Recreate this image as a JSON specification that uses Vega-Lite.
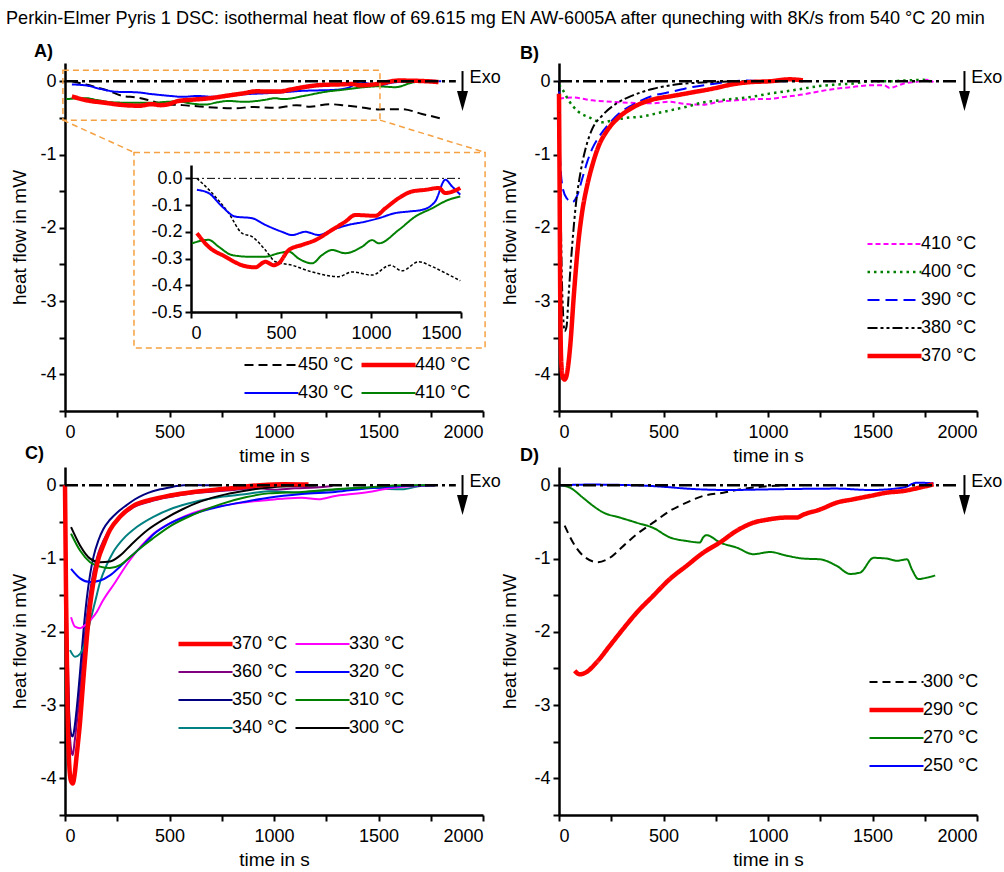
{
  "$schema": "https://vega.github.io/schema/vega-lite/v6.json",
  "padding": {"left": 5, "top": 9, "right": 0, "bottom": 0},
  "title": {"text": "Perkin-Elmer Pyris 1 DSC: isothermal heat flow of 69.615 mg EN AW-6005A after quneching with 8K/s from 540 °C 20 min", "anchor": "start", "dx": -5, "offset": 15, "fontSize": 18.1, "fontWeight": "normal", "font": "Liberation Sans", "color": "black"},
  "columns": 2,
  "spacing": {"row": 56, "column": 76},
  "bounds": "flush",
  "resolve": {"scale": {"color": "independent", "strokeDash": "independent", "strokeWidth": "independent"}, "legend": {"color": "independent", "strokeDash": "independent", "strokeWidth": "independent"}},
  "config": {
    "font": "Liberation Sans",
    "view": {"stroke": null},
    "axis": {"grid": false, "domainColor": "black", "domainWidth": 2.5, "tickColor": "black", "tickWidth": 2, "tickSize": 6, "labelFontSize": 18, "labelColor": "black", "labelFont": "Liberation Sans", "labelPadding": 6, "labelOverlap": false, "titleFontSize": 19, "titleFontWeight": "normal", "titleColor": "black", "titleFont": "Liberation Sans"},
    "axisX": {"titlePadding": 5},
    "axisY": {"titlePadding": 10, "labelPadding": 3},
    "legend": {"labelFontSize": 18, "labelColor": "black", "labelFont": "Liberation Sans", "symbolType": "stroke", "symbolSize": 2916, "clipHeight": 22, "rowPadding": 6, "columnPadding": 5, "labelOffset": -3, "padding": 0},
    "line": {"strokeJoin": "round", "strokeCap": "butt", "interpolate": "monotone"}
  },
  "datasets": {
    "A": [
      {"s":"450 °C","t":33,"v":0},{"s":"450 °C","t":117,"v":-0.055},{"s":"450 °C","t":209,"v":-0.13},{"s":"450 °C","t":283,"v":-0.205},{"s":"450 °C","t":339,"v":-0.218},{"s":"450 °C","t":413,"v":-0.268},{"s":"450 °C","t":469,"v":-0.312},{"s":"450 °C","t":561,"v":-0.325},{"s":"450 °C","t":672,"v":-0.35},{"s":"450 °C","t":820,"v":-0.368},{"s":"450 °C","t":894,"v":-0.35},{"s":"450 °C","t":1006,"v":-0.362},{"s":"450 °C","t":1107,"v":-0.325},{"s":"450 °C","t":1172,"v":-0.346},{"s":"450 °C","t":1265,"v":-0.312},{"s":"450 °C","t":1339,"v":-0.33},{"s":"450 °C","t":1430,"v":-0.36},{"s":"450 °C","t":1496,"v":-0.383},{"s":"450 °C","t":1612,"v":-0.38},{"s":"450 °C","t":1708,"v":-0.445},{"s":"450 °C","t":1796,"v":-0.505},
      {"s":"430 °C","t":33,"v":-0.043},{"s":"430 °C","t":98,"v":-0.055},{"s":"430 °C","t":172,"v":-0.105},{"s":"430 °C","t":246,"v":-0.143},{"s":"430 °C","t":339,"v":-0.149},{"s":"430 °C","t":413,"v":-0.174},{"s":"430 °C","t":506,"v":-0.2},{"s":"430 °C","t":561,"v":-0.212},{"s":"430 °C","t":635,"v":-0.2},{"s":"430 °C","t":709,"v":-0.212},{"s":"430 °C","t":783,"v":-0.193},{"s":"430 °C","t":876,"v":-0.174},{"s":"430 °C","t":968,"v":-0.162},{"s":"430 °C","t":1043,"v":-0.149},{"s":"430 °C","t":1135,"v":-0.13},{"s":"430 °C","t":1209,"v":-0.124},{"s":"430 °C","t":1283,"v":-0.118},{"s":"430 °C","t":1357,"v":-0.086},{"s":"430 °C","t":1413,"v":-0.005},{"s":"430 °C","t":1450,"v":-0.03},{"s":"430 °C","t":1496,"v":-0.061},{"s":"430 °C","t":1560,"v":-0.02},{"s":"430 °C","t":1650,"v":0},{"s":"430 °C","t":1720,"v":0.01},{"s":"430 °C","t":1800,"v":0},
      {"s":"410 °C","t":6,"v":-0.243},{"s":"410 °C","t":98,"v":-0.23},{"s":"410 °C","t":154,"v":-0.256},{"s":"410 °C","t":228,"v":-0.287},{"s":"410 °C","t":320,"v":-0.293},{"s":"410 °C","t":413,"v":-0.293},{"s":"410 °C","t":487,"v":-0.28},{"s":"410 °C","t":543,"v":-0.274},{"s":"410 °C","t":598,"v":-0.3},{"s":"410 °C","t":672,"v":-0.318},{"s":"410 °C","t":728,"v":-0.287},{"s":"410 °C","t":783,"v":-0.268},{"s":"410 °C","t":857,"v":-0.28},{"s":"410 °C","t":950,"v":-0.256},{"s":"410 °C","t":1006,"v":-0.231},{"s":"410 °C","t":1043,"v":-0.243},{"s":"410 °C","t":1154,"v":-0.193},{"s":"410 °C","t":1246,"v":-0.143},{"s":"410 °C","t":1339,"v":-0.112},{"s":"410 °C","t":1431,"v":-0.08},{"s":"410 °C","t":1496,"v":-0.068},{"s":"410 °C","t":1580,"v":-0.08},{"s":"410 °C","t":1676,"v":-0.01},{"s":"410 °C","t":1787,"v":0},
      {"s":"440 °C","t":33,"v":-0.205},{"s":"440 °C","t":98,"v":-0.256},{"s":"440 °C","t":191,"v":-0.293},{"s":"440 °C","t":283,"v":-0.325},{"s":"440 °C","t":357,"v":-0.333},{"s":"440 °C","t":413,"v":-0.312},{"s":"440 °C","t":459,"v":-0.325},{"s":"440 °C","t":487,"v":-0.318},{"s":"440 °C","t":543,"v":-0.268},{"s":"440 °C","t":617,"v":-0.249},{"s":"440 °C","t":691,"v":-0.231},{"s":"440 °C","t":783,"v":-0.193},{"s":"440 °C","t":857,"v":-0.162},{"s":"440 °C","t":913,"v":-0.137},{"s":"440 °C","t":1024,"v":-0.14},{"s":"440 °C","t":1080,"v":-0.112},{"s":"440 °C","t":1154,"v":-0.074},{"s":"440 °C","t":1228,"v":-0.049},{"s":"440 °C","t":1302,"v":-0.043},{"s":"440 °C","t":1376,"v":-0.036},{"s":"440 °C","t":1413,"v":-0.055},{"s":"440 °C","t":1496,"v":-0.036},{"s":"440 °C","t":1596,"v":0.01},{"s":"440 °C","t":1700,"v":0.005},{"s":"440 °C","t":1787,"v":-0.01}
    ],
    "B": [
      {"s":"410 °C","t":0,"v":-0.24},{"s":"410 °C","t":63,"v":-0.22},{"s":"410 °C","t":159,"v":-0.26},{"s":"410 °C","t":287,"v":-0.285},{"s":"410 °C","t":447,"v":-0.3},{"s":"410 °C","t":526,"v":-0.28},{"s":"410 °C","t":608,"v":-0.31},{"s":"410 °C","t":686,"v":-0.32},{"s":"410 °C","t":766,"v":-0.28},{"s":"410 °C","t":846,"v":-0.26},{"s":"410 °C","t":926,"v":-0.245},{"s":"410 °C","t":1006,"v":-0.24},{"s":"410 °C","t":1087,"v":-0.21},{"s":"410 °C","t":1167,"v":-0.18},{"s":"410 °C","t":1247,"v":-0.136},{"s":"410 °C","t":1327,"v":-0.1},{"s":"410 °C","t":1407,"v":-0.077},{"s":"410 °C","t":1487,"v":-0.055},{"s":"410 °C","t":1555,"v":-0.055},{"s":"410 °C","t":1583,"v":-0.09},{"s":"410 °C","t":1647,"v":-0.032},{"s":"410 °C","t":1728,"v":0},{"s":"410 °C","t":1760,"v":0.02},{"s":"410 °C","t":1792,"v":-0.01},
      {"s":"400 °C","t":0,"v":-0.05},{"s":"400 °C","t":14,"v":-0.1},{"s":"400 °C","t":46,"v":-0.26},{"s":"400 °C","t":95,"v":-0.42},{"s":"400 °C","t":143,"v":-0.49},{"s":"400 °C","t":207,"v":-0.56},{"s":"400 °C","t":255,"v":-0.535},{"s":"400 °C","t":319,"v":-0.5},{"s":"400 °C","t":399,"v":-0.48},{"s":"400 °C","t":479,"v":-0.43},{"s":"400 °C","t":559,"v":-0.38},{"s":"400 °C","t":620,"v":-0.34},{"s":"400 °C","t":686,"v":-0.29},{"s":"400 °C","t":766,"v":-0.26},{"s":"400 °C","t":846,"v":-0.236},{"s":"400 °C","t":926,"v":-0.21},{"s":"400 °C","t":1006,"v":-0.168},{"s":"400 °C","t":1087,"v":-0.136},{"s":"400 °C","t":1167,"v":-0.1},{"s":"400 °C","t":1247,"v":-0.064},{"s":"400 °C","t":1327,"v":-0.045},{"s":"400 °C","t":1407,"v":-0.03},{"s":"400 °C","t":1487,"v":0},{"s":"400 °C","t":1567,"v":0},{"s":"400 °C","t":1647,"v":0.01},{"s":"400 °C","t":1743,"v":0.02},{"s":"400 °C","t":1776,"v":0},
      {"s":"390 °C","t":0,"v":0},{"s":"390 °C","t":6,"v":-1.1},{"s":"390 °C","t":18,"v":-1.46},{"s":"390 °C","t":38,"v":-1.6},{"s":"390 °C","t":63,"v":-1.65},{"s":"390 °C","t":87,"v":-1.56},{"s":"390 °C","t":111,"v":-1.33},{"s":"390 °C","t":135,"v":-1.1},{"s":"390 °C","t":159,"v":-0.92},{"s":"390 °C","t":191,"v":-0.76},{"s":"390 °C","t":239,"v":-0.58},{"s":"390 °C","t":287,"v":-0.44},{"s":"390 °C","t":367,"v":-0.3},{"s":"390 °C","t":447,"v":-0.2},{"s":"390 °C","t":543,"v":-0.14},{"s":"390 °C","t":640,"v":-0.077},{"s":"390 °C","t":736,"v":-0.036},{"s":"390 °C","t":832,"v":0},{"s":"390 °C","t":900,"v":0.01},{"s":"390 °C","t":1000,"v":0},{"s":"390 °C","t":1087,"v":0},
      {"s":"380 °C","t":0,"v":0},{"s":"380 °C","t":6,"v":-1.3},{"s":"380 °C","t":13,"v":-2.6},{"s":"380 °C","t":20,"v":-3.2},{"s":"380 °C","t":27,"v":-3.41},{"s":"380 °C","t":36,"v":-3.35},{"s":"380 °C","t":46,"v":-2.92},{"s":"380 °C","t":63,"v":-2.24},{"s":"380 °C","t":82,"v":-1.65},{"s":"380 °C","t":103,"v":-1.24},{"s":"380 °C","t":127,"v":-0.92},{"s":"380 °C","t":159,"v":-0.65},{"s":"380 °C","t":207,"v":-0.467},{"s":"380 °C","t":271,"v":-0.31},{"s":"380 °C","t":351,"v":-0.195},{"s":"380 °C","t":447,"v":-0.104},{"s":"380 °C","t":543,"v":-0.05},{"s":"380 °C","t":640,"v":-0.023},{"s":"380 °C","t":736,"v":-0.01},{"s":"380 °C","t":850,"v":0},{"s":"380 °C","t":1000,"v":0},
      {"s":"370 °C","t":0,"v":-0.17},{"s":"370 °C","t":3,"v":-1.5},{"s":"370 °C","t":6,"v":-3.0},{"s":"370 °C","t":11,"v":-3.85},{"s":"370 °C","t":19,"v":-4.05},{"s":"370 °C","t":27,"v":-4.07},{"s":"370 °C","t":36,"v":-4.02},{"s":"370 °C","t":43,"v":-3.9},{"s":"370 °C","t":54,"v":-3.6},{"s":"370 °C","t":71,"v":-2.92},{"s":"370 °C","t":91,"v":-2.24},{"s":"370 °C","t":111,"v":-1.78},{"s":"370 °C","t":135,"v":-1.42},{"s":"370 °C","t":159,"v":-1.15},{"s":"370 °C","t":191,"v":-0.875},{"s":"370 °C","t":231,"v":-0.67},{"s":"370 °C","t":287,"v":-0.49},{"s":"370 °C","t":351,"v":-0.36},{"s":"370 °C","t":447,"v":-0.25},{"s":"370 °C","t":543,"v":-0.2},{"s":"370 °C","t":640,"v":-0.15},{"s":"370 °C","t":736,"v":-0.1},{"s":"370 °C","t":832,"v":-0.04},{"s":"370 °C","t":920,"v":-0.01},{"s":"370 °C","t":1006,"v":0},{"s":"370 °C","t":1103,"v":0.027},{"s":"370 °C","t":1167,"v":0.014}
    ],
    "C": [
      {"s":"360 °C","t":0,"v":0},{"s":"360 °C","t":8,"v":-1.6},{"s":"360 °C","t":20,"v":-3.2},{"s":"360 °C","t":30,"v":-3.62},{"s":"360 °C","t":37,"v":-3.68},{"s":"360 °C","t":46,"v":-3.5},{"s":"360 °C","t":56,"v":-3.25},{"s":"360 °C","t":72,"v":-2.8},{"s":"360 °C","t":88,"v":-2.25},{"s":"360 °C","t":104,"v":-1.8},{"s":"360 °C","t":120,"v":-1.45},{"s":"360 °C","t":136,"v":-1.18},{"s":"360 °C","t":160,"v":-0.92},{"s":"360 °C","t":183,"v":-0.76},{"s":"360 °C","t":215,"v":-0.6},{"s":"360 °C","t":263,"v":-0.44},{"s":"360 °C","t":327,"v":-0.3},{"s":"360 °C","t":407,"v":-0.22},{"s":"360 °C","t":502,"v":-0.16},{"s":"360 °C","t":614,"v":-0.11},{"s":"360 °C","t":774,"v":-0.07},{"s":"360 °C","t":933,"v":-0.04},{"s":"360 °C","t":1000,"v":-0.06},{"s":"360 °C","t":1100,"v":-0.04},{"s":"360 °C","t":1200,"v":-0.03},{"s":"360 °C","t":1280,"v":-0.01},
      {"s":"350 °C","t":0,"v":0},{"s":"350 °C","t":8,"v":-1.8},{"s":"350 °C","t":20,"v":-3.1},{"s":"350 °C","t":30,"v":-3.4},{"s":"350 °C","t":37,"v":-3.43},{"s":"350 °C","t":46,"v":-3.3},{"s":"350 °C","t":56,"v":-3.05},{"s":"350 °C","t":72,"v":-2.55},{"s":"350 °C","t":88,"v":-2.0},{"s":"350 °C","t":104,"v":-1.55},{"s":"350 °C","t":120,"v":-1.22},{"s":"350 °C","t":136,"v":-0.98},{"s":"350 °C","t":160,"v":-0.75},{"s":"350 °C","t":183,"v":-0.6},{"s":"350 °C","t":215,"v":-0.47},{"s":"350 °C","t":250,"v":-0.37},{"s":"350 °C","t":295,"v":-0.27},{"s":"350 °C","t":335,"v":-0.19},{"s":"350 °C","t":375,"v":-0.13},{"s":"350 °C","t":420,"v":-0.08},{"s":"350 °C","t":455,"v":-0.055},{"s":"350 °C","t":500,"v":-0.03},{"s":"350 °C","t":534,"v":-0.01},{"s":"350 °C","t":600,"v":0.005},{"s":"350 °C","t":700,"v":0},
      {"s":"340 °C","t":24,"v":-2.25},{"s":"340 °C","t":48,"v":-2.34},{"s":"340 °C","t":72,"v":-2.3},{"s":"340 °C","t":96,"v":-2.14},{"s":"340 °C","t":120,"v":-1.86},{"s":"340 °C","t":144,"v":-1.59},{"s":"340 °C","t":168,"v":-1.32},{"s":"340 °C","t":199,"v":-1.09},{"s":"340 °C","t":231,"v":-0.91},{"s":"340 °C","t":279,"v":-0.73},{"s":"340 °C","t":343,"v":-0.57},{"s":"340 °C","t":423,"v":-0.43},{"s":"340 °C","t":518,"v":-0.31},{"s":"340 °C","t":614,"v":-0.23},{"s":"340 °C","t":742,"v":-0.16},{"s":"340 °C","t":869,"v":-0.12},{"s":"340 °C","t":974,"v":-0.08},{"s":"340 °C","t":1133,"v":-0.1},{"s":"340 °C","t":1293,"v":-0.06},{"s":"340 °C","t":1453,"v":-0.03},{"s":"340 °C","t":1550,"v":-0.05},{"s":"340 °C","t":1612,"v":-0.055},{"s":"340 °C","t":1700,"v":-0.01},{"s":"340 °C","t":1772,"v":0},
      {"s":"330 °C","t":29,"v":-1.8},{"s":"330 °C","t":48,"v":-1.93},{"s":"330 °C","t":72,"v":-1.95},{"s":"330 °C","t":104,"v":-1.89},{"s":"330 °C","t":128,"v":-1.82},{"s":"330 °C","t":152,"v":-1.73},{"s":"330 °C","t":176,"v":-1.6},{"s":"330 °C","t":239,"v":-1.33},{"s":"330 °C","t":303,"v":-1.05},{"s":"330 °C","t":367,"v":-0.82},{"s":"330 °C","t":415,"v":-0.68},{"s":"330 °C","t":495,"v":-0.53},{"s":"330 °C","t":574,"v":-0.42},{"s":"330 °C","t":654,"v":-0.34},{"s":"330 °C","t":734,"v":-0.29},{"s":"330 °C","t":814,"v":-0.25},{"s":"330 °C","t":894,"v":-0.22},{"s":"330 °C","t":974,"v":-0.2},{"s":"330 °C","t":1053,"v":-0.18},{"s":"330 °C","t":1133,"v":-0.17},{"s":"330 °C","t":1213,"v":-0.19},{"s":"330 °C","t":1293,"v":-0.145},{"s":"330 °C","t":1373,"v":-0.12},{"s":"330 °C","t":1453,"v":-0.09},{"s":"330 °C","t":1533,"v":-0.05},{"s":"330 °C","t":1612,"v":-0.02},{"s":"330 °C","t":1692,"v":-0.01},{"s":"330 °C","t":1772,"v":0},
      {"s":"320 °C","t":29,"v":-1.14},{"s":"320 °C","t":72,"v":-1.27},{"s":"320 °C","t":120,"v":-1.32},{"s":"320 °C","t":168,"v":-1.3},{"s":"320 °C","t":215,"v":-1.23},{"s":"320 °C","t":263,"v":-1.11},{"s":"320 °C","t":311,"v":-0.98},{"s":"320 °C","t":359,"v":-0.86},{"s":"320 °C","t":423,"v":-0.67},{"s":"320 °C","t":502,"v":-0.52},{"s":"320 °C","t":614,"v":-0.39},{"s":"320 °C","t":742,"v":-0.29},{"s":"320 °C","t":869,"v":-0.22},{"s":"320 °C","t":974,"v":-0.17},{"s":"320 °C","t":1133,"v":-0.12},{"s":"320 °C","t":1293,"v":-0.09},{"s":"320 °C","t":1453,"v":-0.04},{"s":"320 °C","t":1612,"v":-0.01},{"s":"320 °C","t":1772,"v":0},
      {"s":"310 °C","t":29,"v":-0.66},{"s":"310 °C","t":72,"v":-0.89},{"s":"310 °C","t":120,"v":-1.05},{"s":"310 °C","t":168,"v":-1.11},{"s":"310 °C","t":215,"v":-1.13},{"s":"310 °C","t":263,"v":-1.09},{"s":"310 °C","t":311,"v":-0.98},{"s":"310 °C","t":359,"v":-0.86},{"s":"310 °C","t":423,"v":-0.72},{"s":"310 °C","t":502,"v":-0.56},{"s":"310 °C","t":614,"v":-0.4},{"s":"310 °C","t":742,"v":-0.26},{"s":"310 °C","t":869,"v":-0.16},{"s":"310 °C","t":974,"v":-0.11},{"s":"310 °C","t":1133,"v":-0.09},{"s":"310 °C","t":1293,"v":-0.055},{"s":"310 °C","t":1453,"v":-0.03},{"s":"310 °C","t":1612,"v":0},{"s":"310 °C","t":1772,"v":0},
      {"s":"300 °C","t":29,"v":-0.57},{"s":"300 °C","t":72,"v":-0.82},{"s":"300 °C","t":120,"v":-1.0},{"s":"300 °C","t":168,"v":-1.05},{"s":"300 °C","t":215,"v":-1.04},{"s":"300 °C","t":263,"v":-0.96},{"s":"300 °C","t":320,"v":-0.8},{"s":"300 °C","t":395,"v":-0.61},{"s":"300 °C","t":475,"v":-0.46},{"s":"300 °C","t":560,"v":-0.33},{"s":"300 °C","t":650,"v":-0.22},{"s":"300 °C","t":774,"v":-0.12},{"s":"300 °C","t":869,"v":-0.07},{"s":"300 °C","t":974,"v":-0.03},{"s":"300 °C","t":1100,"v":-0.01},{"s":"300 °C","t":1200,"v":0},
      {"s":"370 °C","t":0,"v":0},{"s":"370 °C","t":5,"v":-1.5},{"s":"370 °C","t":12,"v":-3.0},{"s":"370 °C","t":20,"v":-3.8},{"s":"370 °C","t":28,"v":-4.03},{"s":"370 °C","t":37,"v":-4.07},{"s":"370 °C","t":46,"v":-3.95},{"s":"370 °C","t":56,"v":-3.68},{"s":"370 °C","t":72,"v":-3.23},{"s":"370 °C","t":88,"v":-2.64},{"s":"370 °C","t":104,"v":-2.09},{"s":"370 °C","t":120,"v":-1.64},{"s":"370 °C","t":136,"v":-1.32},{"s":"370 °C","t":160,"v":-1.0},{"s":"370 °C","t":183,"v":-0.82},{"s":"370 °C","t":215,"v":-0.61},{"s":"370 °C","t":263,"v":-0.43},{"s":"370 °C","t":327,"v":-0.28},{"s":"370 °C","t":407,"v":-0.2},{"s":"370 °C","t":502,"v":-0.14},{"s":"370 °C","t":614,"v":-0.09},{"s":"370 °C","t":774,"v":-0.045},{"s":"370 °C","t":933,"v":0},{"s":"370 °C","t":1050,"v":0.015},{"s":"370 °C","t":1165,"v":0.01}
    ],
    "D": [
      {"s":"300 °C","t":27,"v":-0.55},{"s":"300 °C","t":67,"v":-0.78},{"s":"300 °C","t":115,"v":-0.96},{"s":"300 °C","t":187,"v":-1.05},{"s":"300 °C","t":243,"v":-0.99},{"s":"300 °C","t":307,"v":-0.83},{"s":"300 °C","t":371,"v":-0.67},{"s":"300 °C","t":450,"v":-0.51},{"s":"300 °C","t":530,"v":-0.35},{"s":"300 °C","t":610,"v":-0.236},{"s":"300 °C","t":690,"v":-0.145},{"s":"300 °C","t":786,"v":-0.1},{"s":"300 °C","t":850,"v":-0.064},{"s":"300 °C","t":930,"v":-0.03},{"s":"300 °C","t":1010,"v":-0.01},{"s":"300 °C","t":1089,"v":0},
      {"s":"270 °C","t":6,"v":0},{"s":"270 °C","t":51,"v":-0.03},{"s":"270 °C","t":115,"v":-0.17},{"s":"270 °C","t":163,"v":-0.28},{"s":"270 °C","t":211,"v":-0.37},{"s":"270 °C","t":291,"v":-0.44},{"s":"270 °C","t":371,"v":-0.51},{"s":"270 °C","t":450,"v":-0.58},{"s":"270 °C","t":530,"v":-0.71},{"s":"270 °C","t":610,"v":-0.76},{"s":"270 °C","t":674,"v":-0.78},{"s":"270 °C","t":690,"v":-0.71},{"s":"270 °C","t":706,"v":-0.68},{"s":"270 °C","t":770,"v":-0.78},{"s":"270 °C","t":850,"v":-0.85},{"s":"270 °C","t":930,"v":-0.94},{"s":"270 °C","t":1010,"v":-0.91},{"s":"270 °C","t":1089,"v":-0.96},{"s":"270 °C","t":1169,"v":-1.0},{"s":"270 °C","t":1249,"v":-1.01},{"s":"270 °C","t":1329,"v":-1.1},{"s":"270 °C","t":1393,"v":-1.21},{"s":"270 °C","t":1441,"v":-1.19},{"s":"270 °C","t":1505,"v":-0.99},{"s":"270 °C","t":1569,"v":-1.0},{"s":"270 °C","t":1617,"v":-1.03},{"s":"270 °C","t":1665,"v":-1.01},{"s":"270 °C","t":1689,"v":-1.15},{"s":"270 °C","t":1720,"v":-1.28},{"s":"270 °C","t":1760,"v":-1.26},{"s":"270 °C","t":1800,"v":-1.23},
      {"s":"250 °C","t":0,"v":0},{"s":"250 °C","t":147,"v":0.01},{"s":"250 °C","t":371,"v":0},{"s":"250 °C","t":500,"v":-0.02},{"s":"250 °C","t":610,"v":-0.045},{"s":"250 °C","t":818,"v":-0.064},{"s":"250 °C","t":1010,"v":-0.055},{"s":"250 °C","t":1329,"v":-0.045},{"s":"250 °C","t":1489,"v":-0.064},{"s":"250 °C","t":1649,"v":-0.03},{"s":"250 °C","t":1712,"v":0.036},{"s":"250 °C","t":1792,"v":0.027},
      {"s":"290 °C","t":75,"v":-2.53},{"s":"290 °C","t":99,"v":-2.58},{"s":"290 °C","t":131,"v":-2.55},{"s":"290 °C","t":179,"v":-2.42},{"s":"290 °C","t":243,"v":-2.19},{"s":"290 °C","t":307,"v":-1.96},{"s":"290 °C","t":371,"v":-1.74},{"s":"290 °C","t":450,"v":-1.51},{"s":"290 °C","t":530,"v":-1.28},{"s":"290 °C","t":610,"v":-1.1},{"s":"290 °C","t":690,"v":-0.92},{"s":"290 °C","t":770,"v":-0.78},{"s":"290 °C","t":850,"v":-0.62},{"s":"290 °C","t":930,"v":-0.51},{"s":"290 °C","t":994,"v":-0.47},{"s":"290 °C","t":1089,"v":-0.44},{"s":"290 °C","t":1137,"v":-0.44},{"s":"290 °C","t":1169,"v":-0.4},{"s":"290 °C","t":1249,"v":-0.33},{"s":"290 °C","t":1329,"v":-0.236},{"s":"290 °C","t":1409,"v":-0.19},{"s":"290 °C","t":1489,"v":-0.145},{"s":"290 °C","t":1569,"v":-0.1},{"s":"290 °C","t":1649,"v":-0.077},{"s":"290 °C","t":1728,"v":-0.03},{"s":"290 °C","t":1792,"v":0.014}
    ]
  },
  "concat": [
    {
      "width": 418, "height": 348,
      "title": {"text": "A)", "anchor": "start", "frame": "group", "dx": -31, "offset": 2, "fontSize": 18, "fontWeight": "bold", "color": "black"},
      "resolve": {"scale": {"x": "independent", "y": "independent", "color": "independent", "strokeDash": "independent", "strokeWidth": "independent"}, "axis": {"x": "independent", "y": "independent"}, "legend": {"color": "independent", "strokeDash": "independent", "strokeWidth": "independent"}},
      "layer": [
        {
          "layer": [
            {
              "data": {"name": "A"},
              "mark": {"type": "line"},
              "encoding": {
                "x": {"field": "t", "type": "quantitative", "title": "time in s", "scale": {"domain": [0, 2000]}, "axis": {"values": [0,250,500,750,1000,1250,1500,1750,2000], "labelExpr": "datum.value % 500 === 0 ? '' + datum.value : ''"}},
                "y": {"field": "v", "type": "quantitative", "title": "heat flow in mW", "scale": {"domain": [-4.5, 0.25]}, "axis": {"orient": "left", "values": [-4.5,-4,-3.5,-3,-2.5,-2,-1.5,-1,-0.5,0], "labelExpr": "abs(datum.value - round(datum.value)) < 0.001 ? replace(format(datum.value, 'd'), '\u2212', '-') : ''"}},
                "color": {"field": "s", "type": "nominal", "scale": {"domain": ["450 °C","430 °C","440 °C","410 °C"], "range": ["black","#0000ff","#ff0000","#008000"]}, "legend": {"orient": "none", "legendX": 177, "legendY": 291, "columns": 2, "title": null}},
                "strokeDash": {"field": "s", "type": "nominal", "scale": {"domain": ["450 °C","430 °C","440 °C","410 °C"], "range": [[9,5],[1,0],[1,0],[1,0]]}, "legend": {"orient": "none", "legendX": 177, "legendY": 291, "columns": 2, "title": null}},
                "strokeWidth": {"field": "s", "type": "nominal", "scale": {"type": "ordinal", "domain": ["450 °C","430 °C","440 °C","410 °C"], "range": [2, 2, 4.5, 2]}, "legend": {"orient": "none", "legendX": 177, "legendY": 291, "columns": 2, "title": null}}
              }
            },
            {"data": {"values": [{}]}, "mark": {"type": "rule", "color": "black", "strokeWidth": 2.5, "strokeDash": [13,4,3,4]}, "encoding": {"x": {"datum": 0, "scale": {"domain": [0, 2000]}, "axis": {"values": [0,250,500,750,1000,1250,1500,1750,2000], "labelExpr": "datum.value % 500 === 0 ? '' + datum.value : ''"}}, "x2": {"datum": 1870}, "y": {"datum": 0, "scale": {"domain": [-4.5, 0.25]}, "axis": {"orient": "left", "values": [-4.5,-4,-3.5,-3,-2.5,-2,-1.5,-1,-0.5,0], "labelExpr": "abs(datum.value - round(datum.value)) < 0.001 ? replace(format(datum.value, 'd'), '\u2212', '-') : ''"}}}},
            {"data": {"values": [{}]}, "mark": {"type": "text", "text": "Exo", "align": "left", "baseline": "middle", "fontSize": 18, "color": "black"}, "encoding": {"x": {"datum": 1936, "scale": {"domain": [0, 2000]}, "axis": {"values": [0,250,500,750,1000,1250,1500,1750,2000], "labelExpr": "datum.value % 500 === 0 ? '' + datum.value : ''"}}, "y": {"datum": 0.05, "scale": {"domain": [-4.5, 0.25]}, "axis": {"orient": "left", "values": [-4.5,-4,-3.5,-3,-2.5,-2,-1.5,-1,-0.5,0], "labelExpr": "abs(datum.value - round(datum.value)) < 0.001 ? replace(format(datum.value, 'd'), '\u2212', '-') : ''"}}}},
            {"data": {"values": [{}]}, "mark": {"type": "rule", "color": "black", "strokeWidth": 2}, "encoding": {"x": {"datum": 1902, "scale": {"domain": [0, 2000]}, "axis": {"values": [0,250,500,750,1000,1250,1500,1750,2000], "labelExpr": "datum.value % 500 === 0 ? '' + datum.value : ''"}}, "y": {"datum": 0.14, "scale": {"domain": [-4.5, 0.25]}, "axis": {"orient": "left", "values": [-4.5,-4,-3.5,-3,-2.5,-2,-1.5,-1,-0.5,0], "labelExpr": "abs(datum.value - round(datum.value)) < 0.001 ? replace(format(datum.value, 'd'), '\u2212', '-') : ''"}}, "y2": {"datum": -0.15}}},
            {"data": {"values": [{}]}, "mark": {"type": "point", "shape": "M-0.55,-1L0.55,-1L0,1Z", "filled": true, "color": "black", "size": 400, "opacity": 1}, "encoding": {"x": {"datum": 1902, "scale": {"domain": [0, 2000]}, "axis": {"values": [0,250,500,750,1000,1250,1500,1750,2000], "labelExpr": "datum.value % 500 === 0 ? '' + datum.value : ''"}}, "y": {"datum": -0.27, "scale": {"domain": [-4.5, 0.25]}, "axis": {"orient": "left", "values": [-4.5,-4,-3.5,-3,-2.5,-2,-1.5,-1,-0.5,0], "labelExpr": "abs(datum.value - round(datum.value)) < 0.001 ? replace(format(datum.value, 'd'), '\u2212', '-') : ''"}}}},
            {"data": {"values": [{}]}, "mark": {"type": "rect", "fillOpacity": 0, "stroke": "#f5a142", "strokeWidth": 1.5, "strokeDash": [6,4]}, "encoding": {"x": {"datum": -10, "scale": {"domain": [0, 2000]}, "axis": {"values": [0,250,500,750,1000,1250,1500,1750,2000], "labelExpr": "datum.value % 500 === 0 ? '' + datum.value : ''"}}, "x2": {"datum": 1507}, "y": {"datum": 0.15, "scale": {"domain": [-4.5, 0.25]}, "axis": {"orient": "left", "values": [-4.5,-4,-3.5,-3,-2.5,-2,-1.5,-1,-0.5,0], "labelExpr": "abs(datum.value - round(datum.value)) < 0.001 ? replace(format(datum.value, 'd'), '\u2212', '-') : ''"}}, "y2": {"datum": -0.53}}},
            {"data": {"values": [{}]}, "mark": {"type": "rect", "fillOpacity": 0, "stroke": "#f5a142", "strokeWidth": 1.5, "strokeDash": [6,4]}, "encoding": {"x": {"datum": 330, "scale": {"domain": [0, 2000]}, "axis": {"values": [0,250,500,750,1000,1250,1500,1750,2000], "labelExpr": "datum.value % 500 === 0 ? '' + datum.value : ''"}}, "x2": {"datum": 2010}, "y": {"datum": -0.97, "scale": {"domain": [-4.5, 0.25]}, "axis": {"orient": "left", "values": [-4.5,-4,-3.5,-3,-2.5,-2,-1.5,-1,-0.5,0], "labelExpr": "abs(datum.value - round(datum.value)) < 0.001 ? replace(format(datum.value, 'd'), '\u2212', '-') : ''"}}, "y2": {"datum": -3.64}}},
            {"data": {"values": [{}]}, "mark": {"type": "rule", "color": "#f5a142", "strokeWidth": 1.5, "strokeDash": [6,4]}, "encoding": {"x": {"datum": -10, "scale": {"domain": [0, 2000]}, "axis": {"values": [0,250,500,750,1000,1250,1500,1750,2000], "labelExpr": "datum.value % 500 === 0 ? '' + datum.value : ''"}}, "y": {"datum": -0.53, "scale": {"domain": [-4.5, 0.25]}, "axis": {"orient": "left", "values": [-4.5,-4,-3.5,-3,-2.5,-2,-1.5,-1,-0.5,0], "labelExpr": "abs(datum.value - round(datum.value)) < 0.001 ? replace(format(datum.value, 'd'), '\u2212', '-') : ''"}}, "x2": {"datum": 330}, "y2": {"datum": -0.97}}},
            {"data": {"values": [{}]}, "mark": {"type": "rule", "color": "#f5a142", "strokeWidth": 1.5, "strokeDash": [6,4]}, "encoding": {"x": {"datum": 1507, "scale": {"domain": [0, 2000]}, "axis": {"values": [0,250,500,750,1000,1250,1500,1750,2000], "labelExpr": "datum.value % 500 === 0 ? '' + datum.value : ''"}}, "y": {"datum": -0.53, "scale": {"domain": [-4.5, 0.25]}, "axis": {"orient": "left", "values": [-4.5,-4,-3.5,-3,-2.5,-2,-1.5,-1,-0.5,0], "labelExpr": "abs(datum.value - round(datum.value)) < 0.001 ? replace(format(datum.value, 'd'), '\u2212', '-') : ''"}}, "x2": {"datum": 2010}, "y2": {"datum": -0.97}}}
          ]
        },
        {
          "layer": [
            {
              "data": {"name": "A"},
              "transform": [{"filter": "datum.t <= 1500"}],
              "mark": {"type": "line"},
              "encoding": {
                "x": {"field": "t", "type": "quantitative", "title": null, "scale": {"domain": [0, 1500], "range": [126, 396]}, "axis": {"orient": "bottom", "offset": -99, "values": [0,250,500,750,1000,1250,1500], "labelPadding": 6, "labelExpr": "datum.value % 500 === 0 ? '' + datum.value : ''"}},
                "y": {"field": "v", "type": "quantitative", "title": null, "scale": {"domain": [-0.5, 0.05], "range": [249, 102]}, "axis": {"orient": "left", "offset": -126, "values": [-0.5,-0.45,-0.4,-0.35,-0.3,-0.25,-0.2,-0.15,-0.1,-0.05,0,0.05], "labelExpr": "abs(datum.value*10 - round(datum.value*10)) < 0.001 ? replace(format(datum.value, '.1f'), '\u2212', '-') : ''"}},
                "color": {"field": "s", "type": "nominal", "scale": {"domain": ["450 °C","430 °C","440 °C","410 °C"], "range": ["black","#0000ff","#ff0000","#008000"]}, "legend": null},
                "strokeDash": {"field": "s", "type": "nominal", "scale": {"domain": ["450 °C","430 °C","440 °C","410 °C"], "range": [[3,2],[1,0],[1,0],[1,0]]}, "legend": null},
                "strokeWidth": {"condition": [{"test": "datum.s === '440 °C'", "value": 4}, {"test": "datum.s === '450 °C'", "value": 1.5}], "value": 2}
              }
            },
            {"data": {"values": [{}]}, "mark": {"type": "rule", "color": "black", "strokeWidth": 1, "strokeDash": [8,3,2,3]}, "encoding": {"x": {"datum": 0, "scale": {"domain": [0, 1500], "range": [126, 396]}}, "x2": {"datum": 1500}, "y": {"datum": 0, "scale": {"domain": [-0.5, 0.05], "range": [249, 102]}}}}
          ]
        }
      ]
    },
    {
      "width": 418, "height": 348,
      "title": {"text": "B)", "anchor": "start", "frame": "group", "dx": -39, "offset": 0, "fontSize": 18, "fontWeight": "bold", "color": "black"},
      "layer": [
        {
          "data": {"name": "B"},
          "mark": {"type": "line"},
          "encoding": {
            "x": {"field": "t", "type": "quantitative", "title": "time in s", "scale": {"domain": [0, 2000]}, "axis": {"values": [0,250,500,750,1000,1250,1500,1750,2000], "labelExpr": "datum.value % 500 === 0 ? '' + datum.value : ''"}},
            "y": {"field": "v", "type": "quantitative", "title": "heat flow in mW", "scale": {"domain": [-4.5, 0.25]}, "axis": {"orient": "left", "titlePadding": 14, "values": [-4.5,-4,-3.5,-3,-2.5,-2,-1.5,-1,-0.5,0], "labelExpr": "abs(datum.value - round(datum.value)) < 0.001 ? replace(format(datum.value, 'd'), '\u2212', '-') : ''"}},
            "color": {"field": "s", "type": "nominal", "scale": {"domain": ["410 °C","400 °C","390 °C","380 °C","370 °C"], "range": ["#ff00ff","#008000","#0000ff","black","#ff0000"]}, "legend": {"orient": "none", "legendX": 306, "legendY": 170, "title": null}},
            "strokeDash": {"field": "s", "type": "nominal", "scale": {"domain": ["410 °C","400 °C","390 °C","380 °C","370 °C"], "range": [[5,3],[2.5,4],[12,6],[10,3,3,3,3,3],[1,0]]}, "legend": {"orient": "none", "legendX": 306, "legendY": 170, "title": null}},
            "strokeWidth": {"field": "s", "type": "nominal", "scale": {"type": "ordinal", "domain": ["410 °C","400 °C","390 °C","380 °C","370 °C"], "range": [2, 2.5, 2, 2, 4.5]}, "legend": {"orient": "none", "legendX": 306, "legendY": 170, "title": null}}
          }
        },
        {"data": {"values": [{}]}, "mark": {"type": "rule", "color": "black", "strokeWidth": 2.5, "strokeDash": [13,4,3,4]}, "encoding": {"x": {"datum": 0, "scale": {"domain": [0, 2000]}, "axis": {"values": [0,250,500,750,1000,1250,1500,1750,2000], "labelExpr": "datum.value % 500 === 0 ? '' + datum.value : ''"}}, "x2": {"datum": 1912}, "y": {"datum": 0, "scale": {"domain": [-4.5, 0.25]}, "axis": {"orient": "left", "titlePadding": 14, "values": [-4.5,-4,-3.5,-3,-2.5,-2,-1.5,-1,-0.5,0], "labelExpr": "abs(datum.value - round(datum.value)) < 0.001 ? replace(format(datum.value, 'd'), '\u2212', '-') : ''"}}}},
        {"data": {"values": [{}]}, "mark": {"type": "text", "text": "Exo", "align": "left", "baseline": "middle", "fontSize": 18, "color": "black"}, "encoding": {"x": {"datum": 1972, "scale": {"domain": [0, 2000]}, "axis": {"values": [0,250,500,750,1000,1250,1500,1750,2000], "labelExpr": "datum.value % 500 === 0 ? '' + datum.value : ''"}}, "y": {"datum": 0.05, "scale": {"domain": [-4.5, 0.25]}, "axis": {"orient": "left", "titlePadding": 14, "values": [-4.5,-4,-3.5,-3,-2.5,-2,-1.5,-1,-0.5,0], "labelExpr": "abs(datum.value - round(datum.value)) < 0.001 ? replace(format(datum.value, 'd'), '\u2212', '-') : ''"}}}},
        {"data": {"values": [{}]}, "mark": {"type": "rule", "color": "black", "strokeWidth": 2}, "encoding": {"x": {"datum": 1940, "scale": {"domain": [0, 2000]}, "axis": {"values": [0,250,500,750,1000,1250,1500,1750,2000], "labelExpr": "datum.value % 500 === 0 ? '' + datum.value : ''"}}, "y": {"datum": 0.14, "scale": {"domain": [-4.5, 0.25]}, "axis": {"orient": "left", "titlePadding": 14, "values": [-4.5,-4,-3.5,-3,-2.5,-2,-1.5,-1,-0.5,0], "labelExpr": "abs(datum.value - round(datum.value)) < 0.001 ? replace(format(datum.value, 'd'), '\u2212', '-') : ''"}}, "y2": {"datum": -0.15}}},
        {"data": {"values": [{}]}, "mark": {"type": "point", "shape": "M-0.55,-1L0.55,-1L0,1Z", "filled": true, "color": "black", "size": 400, "opacity": 1}, "encoding": {"x": {"datum": 1940, "scale": {"domain": [0, 2000]}, "axis": {"values": [0,250,500,750,1000,1250,1500,1750,2000], "labelExpr": "datum.value % 500 === 0 ? '' + datum.value : ''"}}, "y": {"datum": -0.27, "scale": {"domain": [-4.5, 0.25]}, "axis": {"orient": "left", "titlePadding": 14, "values": [-4.5,-4,-3.5,-3,-2.5,-2,-1.5,-1,-0.5,0], "labelExpr": "abs(datum.value - round(datum.value)) < 0.001 ? replace(format(datum.value, 'd'), '\u2212', '-') : ''"}}}}
      ]
    },
    {
      "width": 418, "height": 348,
      "title": {"text": "C)", "anchor": "start", "frame": "group", "dx": -40, "offset": 4, "fontSize": 18, "fontWeight": "bold", "color": "black"},
      "layer": [
        {
          "data": {"name": "C"},
          "mark": {"type": "line"},
          "encoding": {
            "x": {"field": "t", "type": "quantitative", "title": "time in s", "scale": {"domain": [0, 2000]}, "axis": {"values": [0,250,500,750,1000,1250,1500,1750,2000], "labelExpr": "datum.value % 500 === 0 ? '' + datum.value : ''"}},
            "y": {"field": "v", "type": "quantitative", "title": "heat flow in mW", "scale": {"domain": [-4.5, 0.25]}, "axis": {"orient": "left", "values": [-4.5,-4,-3.5,-3,-2.5,-2,-1.5,-1,-0.5,0], "labelExpr": "abs(datum.value - round(datum.value)) < 0.001 ? replace(format(datum.value, 'd'), '\u2212', '-') : ''"}},
            "color": {"field": "s", "type": "nominal", "scale": {"domain": ["370 °C","360 °C","350 °C","340 °C","330 °C","320 °C","310 °C","300 °C"], "range": ["#ff0000","#800080","#000080","#008080","#ff00ff","#0000ff","#008000","black"]}, "legend": {"orient": "none", "legendX": 111, "legendY": 166, "columns": 2, "title": null}},
            "strokeWidth": {"field": "s", "type": "nominal", "scale": {"type": "ordinal", "domain": ["370 °C","360 °C","350 °C","340 °C","330 °C","320 °C","310 °C","300 °C"], "range": [4.5, 2, 2, 2, 2, 2, 2, 2]}, "legend": {"orient": "none", "legendX": 111, "legendY": 166, "columns": 2, "title": null}}
          }
        },
        {"data": {"values": [{}]}, "mark": {"type": "rule", "color": "black", "strokeWidth": 2.5, "strokeDash": [13,4,3,4]}, "encoding": {"x": {"datum": 0, "scale": {"domain": [0, 2000]}, "axis": {"values": [0,250,500,750,1000,1250,1500,1750,2000], "labelExpr": "datum.value % 500 === 0 ? '' + datum.value : ''"}}, "x2": {"datum": 1870}, "y": {"datum": 0, "scale": {"domain": [-4.5, 0.25]}, "axis": {"orient": "left", "values": [-4.5,-4,-3.5,-3,-2.5,-2,-1.5,-1,-0.5,0], "labelExpr": "abs(datum.value - round(datum.value)) < 0.001 ? replace(format(datum.value, 'd'), '\u2212', '-') : ''"}}}},
        {"data": {"values": [{}]}, "mark": {"type": "text", "text": "Exo", "align": "left", "baseline": "middle", "fontSize": 18, "color": "black"}, "encoding": {"x": {"datum": 1936, "scale": {"domain": [0, 2000]}, "axis": {"values": [0,250,500,750,1000,1250,1500,1750,2000], "labelExpr": "datum.value % 500 === 0 ? '' + datum.value : ''"}}, "y": {"datum": 0.05, "scale": {"domain": [-4.5, 0.25]}, "axis": {"orient": "left", "values": [-4.5,-4,-3.5,-3,-2.5,-2,-1.5,-1,-0.5,0], "labelExpr": "abs(datum.value - round(datum.value)) < 0.001 ? replace(format(datum.value, 'd'), '\u2212', '-') : ''"}}}},
        {"data": {"values": [{}]}, "mark": {"type": "rule", "color": "black", "strokeWidth": 2}, "encoding": {"x": {"datum": 1902, "scale": {"domain": [0, 2000]}, "axis": {"values": [0,250,500,750,1000,1250,1500,1750,2000], "labelExpr": "datum.value % 500 === 0 ? '' + datum.value : ''"}}, "y": {"datum": 0.14, "scale": {"domain": [-4.5, 0.25]}, "axis": {"orient": "left", "values": [-4.5,-4,-3.5,-3,-2.5,-2,-1.5,-1,-0.5,0], "labelExpr": "abs(datum.value - round(datum.value)) < 0.001 ? replace(format(datum.value, 'd'), '\u2212', '-') : ''"}}, "y2": {"datum": -0.15}}},
        {"data": {"values": [{}]}, "mark": {"type": "point", "shape": "M-0.55,-1L0.55,-1L0,1Z", "filled": true, "color": "black", "size": 400, "opacity": 1}, "encoding": {"x": {"datum": 1902, "scale": {"domain": [0, 2000]}, "axis": {"values": [0,250,500,750,1000,1250,1500,1750,2000], "labelExpr": "datum.value % 500 === 0 ? '' + datum.value : ''"}}, "y": {"datum": -0.27, "scale": {"domain": [-4.5, 0.25]}, "axis": {"orient": "left", "values": [-4.5,-4,-3.5,-3,-2.5,-2,-1.5,-1,-0.5,0], "labelExpr": "abs(datum.value - round(datum.value)) < 0.001 ? replace(format(datum.value, 'd'), '\u2212', '-') : ''"}}}}
      ]
    },
    {
      "width": 418, "height": 348,
      "title": {"text": "D)", "anchor": "start", "frame": "group", "dx": -39, "offset": 2, "fontSize": 18, "fontWeight": "bold", "color": "black"},
      "layer": [
        {
          "data": {"name": "D"},
          "mark": {"type": "line"},
          "encoding": {
            "x": {"field": "t", "type": "quantitative", "title": "time in s", "scale": {"domain": [0, 2000]}, "axis": {"values": [0,250,500,750,1000,1250,1500,1750,2000], "labelExpr": "datum.value % 500 === 0 ? '' + datum.value : ''"}},
            "y": {"field": "v", "type": "quantitative", "title": "heat flow in mW", "scale": {"domain": [-4.5, 0.25]}, "axis": {"orient": "left", "titlePadding": 14, "values": [-4.5,-4,-3.5,-3,-2.5,-2,-1.5,-1,-0.5,0], "labelExpr": "abs(datum.value - round(datum.value)) < 0.001 ? replace(format(datum.value, 'd'), '\u2212', '-') : ''"}},
            "color": {"field": "s", "type": "nominal", "scale": {"domain": ["300 °C","290 °C","270 °C","250 °C"], "range": ["black","#ff0000","#008000","#0000ff"]}, "legend": {"orient": "none", "legendX": 308, "legendY": 204, "title": null}},
            "strokeDash": {"field": "s", "type": "nominal", "scale": {"domain": ["300 °C","290 °C","270 °C","250 °C"], "range": [[8,5],[1,0],[1,0],[1,0]]}, "legend": {"orient": "none", "legendX": 308, "legendY": 204, "title": null}},
            "strokeWidth": {"field": "s", "type": "nominal", "scale": {"type": "ordinal", "domain": ["300 °C","290 °C","270 °C","250 °C"], "range": [2, 4.5, 2, 2]}, "legend": {"orient": "none", "legendX": 308, "legendY": 204, "title": null}}
          }
        },
        {"data": {"values": [{}]}, "mark": {"type": "rule", "color": "black", "strokeWidth": 2.5, "strokeDash": [13,4,3,4]}, "encoding": {"x": {"datum": 0, "scale": {"domain": [0, 2000]}, "axis": {"values": [0,250,500,750,1000,1250,1500,1750,2000], "labelExpr": "datum.value % 500 === 0 ? '' + datum.value : ''"}}, "x2": {"datum": 1912}, "y": {"datum": 0, "scale": {"domain": [-4.5, 0.25]}, "axis": {"orient": "left", "titlePadding": 14, "values": [-4.5,-4,-3.5,-3,-2.5,-2,-1.5,-1,-0.5,0], "labelExpr": "abs(datum.value - round(datum.value)) < 0.001 ? replace(format(datum.value, 'd'), '\u2212', '-') : ''"}}}},
        {"data": {"values": [{}]}, "mark": {"type": "text", "text": "Exo", "align": "left", "baseline": "middle", "fontSize": 18, "color": "black"}, "encoding": {"x": {"datum": 1972, "scale": {"domain": [0, 2000]}, "axis": {"values": [0,250,500,750,1000,1250,1500,1750,2000], "labelExpr": "datum.value % 500 === 0 ? '' + datum.value : ''"}}, "y": {"datum": 0.05, "scale": {"domain": [-4.5, 0.25]}, "axis": {"orient": "left", "titlePadding": 14, "values": [-4.5,-4,-3.5,-3,-2.5,-2,-1.5,-1,-0.5,0], "labelExpr": "abs(datum.value - round(datum.value)) < 0.001 ? replace(format(datum.value, 'd'), '\u2212', '-') : ''"}}}},
        {"data": {"values": [{}]}, "mark": {"type": "rule", "color": "black", "strokeWidth": 2}, "encoding": {"x": {"datum": 1940, "scale": {"domain": [0, 2000]}, "axis": {"values": [0,250,500,750,1000,1250,1500,1750,2000], "labelExpr": "datum.value % 500 === 0 ? '' + datum.value : ''"}}, "y": {"datum": 0.14, "scale": {"domain": [-4.5, 0.25]}, "axis": {"orient": "left", "titlePadding": 14, "values": [-4.5,-4,-3.5,-3,-2.5,-2,-1.5,-1,-0.5,0], "labelExpr": "abs(datum.value - round(datum.value)) < 0.001 ? replace(format(datum.value, 'd'), '\u2212', '-') : ''"}}, "y2": {"datum": -0.15}}},
        {"data": {"values": [{}]}, "mark": {"type": "point", "shape": "M-0.55,-1L0.55,-1L0,1Z", "filled": true, "color": "black", "size": 400, "opacity": 1}, "encoding": {"x": {"datum": 1940, "scale": {"domain": [0, 2000]}, "axis": {"values": [0,250,500,750,1000,1250,1500,1750,2000], "labelExpr": "datum.value % 500 === 0 ? '' + datum.value : ''"}}, "y": {"datum": -0.27, "scale": {"domain": [-4.5, 0.25]}, "axis": {"orient": "left", "titlePadding": 14, "values": [-4.5,-4,-3.5,-3,-2.5,-2,-1.5,-1,-0.5,0], "labelExpr": "abs(datum.value - round(datum.value)) < 0.001 ? replace(format(datum.value, 'd'), '\u2212', '-') : ''"}}}}
      ]
    }
  ]
}
